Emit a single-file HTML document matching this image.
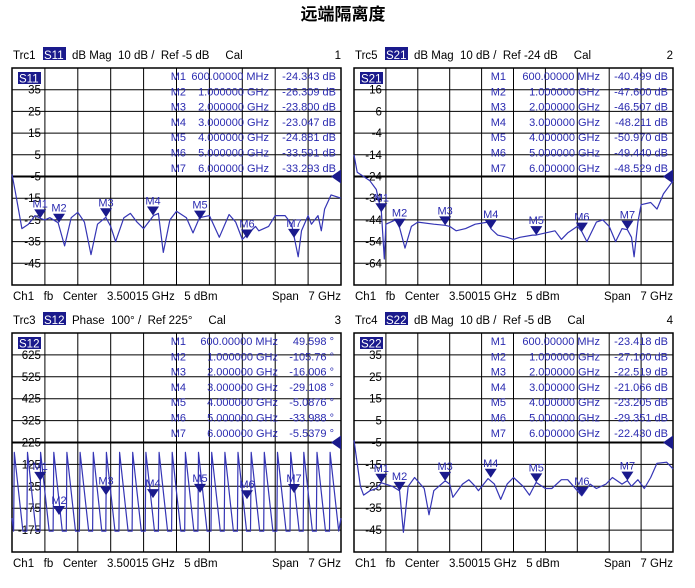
<!DOCTYPE html>
<html><head><meta charset="utf-8"><style>
html,body{margin:0;padding:0;background:#fff;width:695px;height:588px;overflow:hidden}
svg{display:block}
text{font-family:"Liberation Sans","Noto Sans CJK SC",sans-serif;white-space:pre}
</style></head><body>
<svg id="s" width="695" height="588" xmlns="http://www.w3.org/2000/svg">
<text x="343" y="20" font-size="17" font-weight="bold" text-anchor="middle" font-family="'Liberation Sans','Noto Sans CJK SC',sans-serif">远端隔离度</text>
</svg>
<script>
var S=document.getElementById('s'),NS='http://www.w3.org/2000/svg',B='#2a2ab0';
function el(t,a,txt){var e=document.createElementNS(NS,t);for(var k in a)e.setAttribute(k,a[k]);if(txt!=null)e.textContent=txt;S.appendChild(e);return e;}
function panel(c){
 var L=c.L,R=c.R,T=c.T,Bm=c.B,W=R-L,H=Bm-T;
 function X(f){return L+f*W;} function Y(d){return T+d*H/10;}
 var hy=T-9;
 el('text',{x:L+1,y:hy,'font-size':11.5},c.trc);
 el('rect',{x:L+31,y:T-21,width:23,height:13,fill:'#1a1a8c'});
 el('text',{x:L+32,y:hy,'font-size':11.5,fill:'#fff'},c.s);
 el('text',{x:L+60,y:hy,'font-size':11.5},c.hdr);
 el('text',{x:R,y:hy,'font-size':11.5,'text-anchor':'end'},c.n);
 el('text',{x:L+1,y:Bm+15,'font-size':11.5},'Ch1   fb   Center   3.50015 GHz   '+c.dbm);
 el('text',{x:R,y:Bm+15,'font-size':11.5,'text-anchor':'end'},'Span   7 GHz');
 var g='';
 for(var i=1;i<10;i++){g+='M'+X(i/10)+' '+T+'V'+Bm;g+='M'+L+' '+Y(i)+'H'+R;}
 el('path',{d:g,stroke:'#000','stroke-width':1,fill:'none'});
 el('path',{d:'M'+L+' '+Y(5)+'H'+R,stroke:'#000','stroke-width':2});
 el('rect',{x:L,y:T,width:W,height:H,fill:'none',stroke:'#000','stroke-width':1.5});
 for(i=1;i<10;i++){el('text',{x:X(0.1)-4,y:Y(i)+4,'font-size':11.5,'text-anchor':'end'},c.yl[i-1]);}
 el('rect',{x:L+6,y:T+4,width:23,height:12,fill:'#1a1a8c'});
 el('text',{x:L+7,y:T+14.5,'font-size':11.5,fill:'#fff'},c.s);
 for(i=0;i<7;i++){var yy=T+12+i*15.3;
  el('text',{x:c.mx,y:yy,'font-size':11,fill:B,'text-anchor':'end'},'M'+(i+1));
  el('text',{x:c.fx,y:yy,'font-size':11,fill:B,'text-anchor':'end'},c.fr[i]);
  el('text',{x:c.vx,y:yy,'font-size':11,fill:B,'text-anchor':'end'},c.vals[i]);}
 el('path',{d:'M'+R+' '+(Y(5)-7)+'L'+(R-10)+' '+Y(5)+'L'+R+' '+(Y(5)+7)+'Z',fill:'#1a1a8c'});
 var d='';
 c.pts.forEach(function(p,j){d+=(j?'L':'M')+X(p[0]).toFixed(1)+' '+Y(c.dv(p[1])).toFixed(1);});
 el('path',{d:d,stroke:'#3535b5','stroke-width':1.2,fill:'none','stroke-linejoin':'round'});
 var mf=[0.6,1,2,3,4,5,6];
 for(i=0;i<7;i++){var mx=X(mf[i]/7),my=Y(c.dv(c.mv[i]));
  el('path',{d:'M'+mx+' '+my+'L'+(mx-6)+' '+(my-9)+'L'+(mx+6)+' '+(my-9)+'Z',fill:'#1a1a8c'});
  el('text',{x:mx,y:my-11,'font-size':11,fill:B,'text-anchor':'middle'},'M'+(i+1));}
}
var fr=['600.00000 MHz','1.000000 GHz','2.000000 GHz','3.000000 GHz','4.000000 GHz','5.000000 GHz','6.000000 GHz'];
function dB(ref){return function(v){return 5-(v-ref)/10;};}
var yA=['35','25','15','5','-5','-15','-25','-35','-45'];
panel({L:12,R:341,T:68,B:285,trc:'Trc1',s:'S11',hdr:'dB Mag  10 dB /  Ref -5 dB     Cal',n:'1',dbm:'5 dBm',yl:yA,
 mx:186,fx:269,vx:336,fr:fr,vals:['-24.343 dB','-26.309 dB','-23.800 dB','-23.047 dB','-24.881 dB','-33.591 dB','-33.293 dB'],
 dv:dB(-5),mv:[-24.3,-26.3,-23.8,-23.0,-24.9,-33.6,-33.3],
 pts:[[0,-4],[0.01,-12],[0.03,-29],[0.05,-27],[0.07,-23],[0.086,-24.3],[0.1,-25],[0.115,-24],[0.14,-26.3],[0.16,-37],[0.18,-24],[0.2,-21.5],[0.22,-26],[0.24,-41],[0.26,-27],[0.285,-23.8],[0.3,-28],[0.315,-35],[0.34,-24],[0.36,-22],[0.38,-26],[0.40,-29],[0.43,-23],[0.445,-22],[0.46,-40],[0.48,-25],[0.5,-21],[0.53,-24],[0.55,-31],[0.57,-24],[0.6,-23],[0.63,-33],[0.66,-22.5],[0.68,-26],[0.70,-34],[0.72,-31],[0.74,-28],[0.75,-30],[0.78,-28],[0.80,-23],[0.83,-23],[0.85,-27],[0.87,-42],[0.88,-30],[0.9,-23],[0.91,-27],[0.93,-23],[0.94,-30],[0.95,-20],[0.97,-13.5],[1,-15]]});
panel({L:354,R:673,T:68,B:285,trc:'Trc5',s:'S21',hdr:'dB Mag  10 dB /  Ref -24 dB     Cal',n:'2',dbm:'5 dBm',yl:['16','6','-4','-14','-24','-34','-44','-54','-64'],
 mx:506,fx:600,vx:668,fr:fr,vals:['-40.499 dB','-47.600 dB','-46.507 dB','-48.211 dB','-50.970 dB','-49.440 dB','-48.529 dB'],
 dv:dB(-24),mv:[-40.5,-47.6,-46.5,-48.2,-51.0,-49.4,-48.5],
 pts:[[0,-14],[0.01,-22],[0.03,-24],[0.05,-26],[0.07,-30],[0.086,-40.5],[0.095,-62],[0.10,-46],[0.13,-44],[0.143,-47.6],[0.16,-57],[0.18,-47],[0.2,-45],[0.25,-46],[0.286,-46.5],[0.3,-47],[0.32,-49],[0.35,-48],[0.38,-46],[0.42,-45],[0.43,-48.2],[0.45,-51],[0.48,-52],[0.5,-53],[0.52,-52],[0.56,-51],[0.571,-51],[0.6,-50],[0.63,-49],[0.65,-53],[0.67,-50],[0.7,-47],[0.714,-49.4],[0.73,-54],[0.76,-45],[0.78,-44],[0.8,-47],[0.82,-54],[0.84,-48],[0.857,-48.5],[0.87,-52],[0.878,-61],[0.89,-45],[0.9,-37],[0.93,-36],[0.95,-39],[0.97,-32],[1,-26]]});
var saw=[];var per=1/25;
for(var k=0;k<25;k++){var x0=k*per+0.005;saw.push([x0,-180]);saw.push([x0+0.002,180]);saw.push([x0+per*0.7,-180]);}
saw.unshift([0,-120]);saw.push([1,-120]);
panel({L:12,R:341,T:333,B:552,trc:'Trc3',s:'S12',hdr:'Phase  100° /  Ref 225°     Cal',n:'3',dbm:'5 dBm',yl:['625','525','425','325','225','125','25','-75','-175'],
 mx:186,fx:278,vx:334,fr:fr,vals:['49.598 °','-105.76 °','-16.006 °','-29.108 °','-5.0876 °','-33.988 °','-5.5379 °'],
 dv:function(v){return 5-(v-225)/100;},mv:[49.6,-105.8,-16,-29.1,-5.1,-34,-5.5],pts:saw});
panel({L:354,R:673,T:333,B:552,trc:'Trc4',s:'S22',hdr:'dB Mag  10 dB /  Ref -5 dB     Cal',n:'4',dbm:'5 dBm',yl:yA,
 mx:506,fx:600,vx:668,fr:fr,vals:['-23.418 dB','-27.100 dB','-22.519 dB','-21.066 dB','-23.205 dB','-29.351 dB','-22.430 dB'],
 dv:dB(-5),mv:[-23.4,-27.1,-22.5,-21.1,-23.2,-29.4,-22.4],
 pts:[[0,-4],[0.02,-25],[0.03,-29],[0.05,-27],[0.07,-26],[0.086,-23.4],[0.12,-25],[0.143,-27.1],[0.155,-46],[0.17,-25],[0.19,-21],[0.22,-26],[0.235,-38],[0.25,-27],[0.286,-22.5],[0.3,-24],[0.31,-30],[0.34,-24],[0.36,-22],[0.38,-25],[0.39,-27],[0.42,-21.5],[0.44,-24],[0.46,-31],[0.48,-24],[0.5,-21],[0.53,-25],[0.55,-29],[0.571,-23.2],[0.6,-26],[0.62,-26],[0.65,-22],[0.67,-22],[0.7,-27],[0.714,-29.35],[0.74,-24],[0.76,-26],[0.79,-24],[0.81,-21],[0.84,-24],[0.857,-22.4],[0.87,-25],[0.89,-22],[0.91,-26],[0.93,-21],[0.95,-14.5],[0.98,-14],[1,-17]]});
</script>
</body></html>
